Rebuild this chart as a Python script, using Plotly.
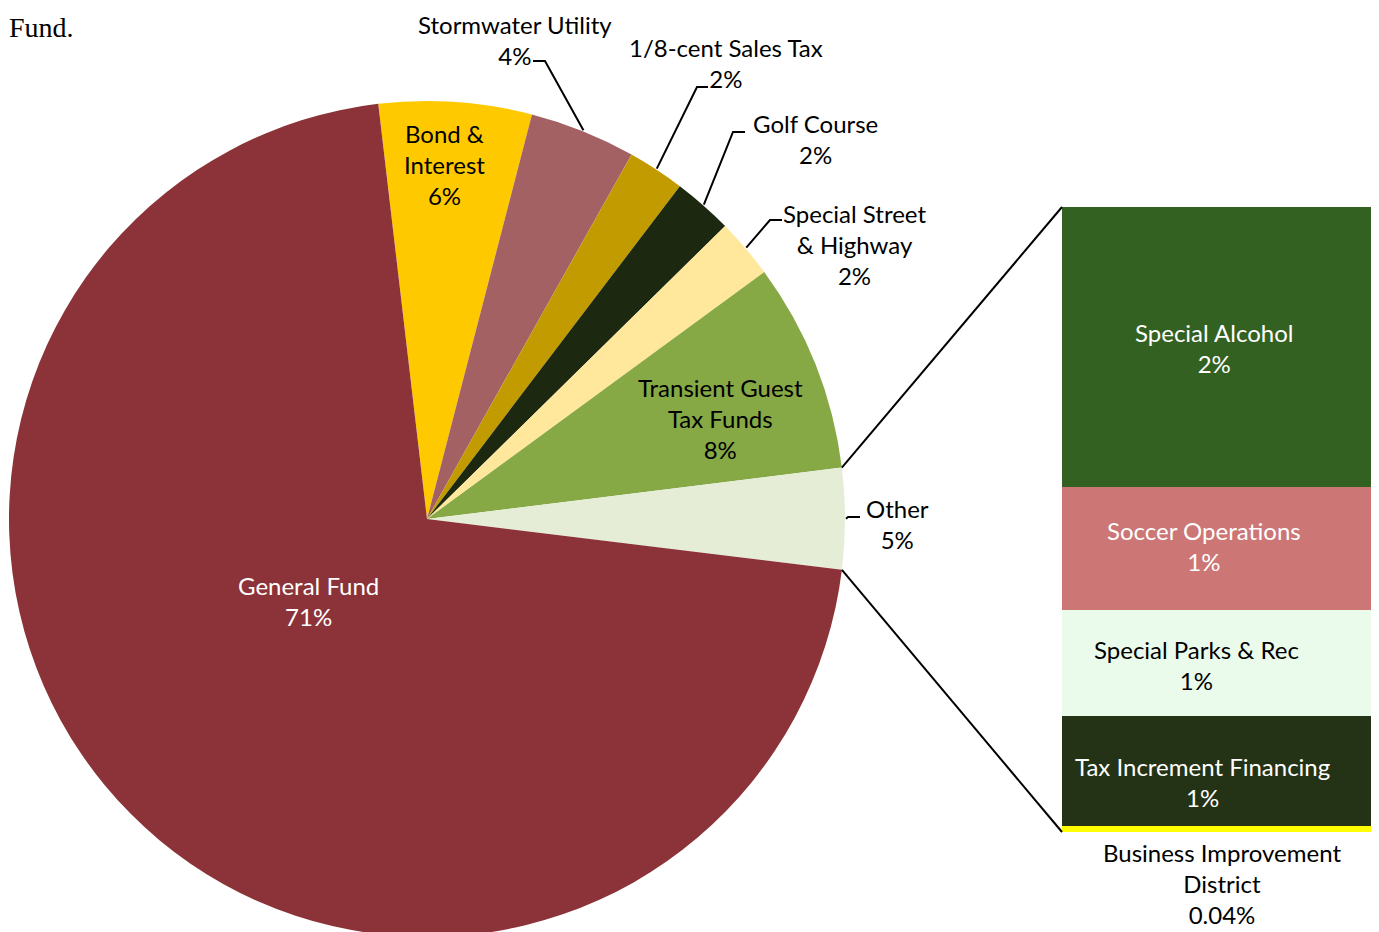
import math
import plotly.graph_objects as go

W, H = 1379, 932
OFF = 8   # the page places the figure 8 px in from the top-left corner

# ---------------- data ----------------
# pie slices, clockwise starting at "Bond & Interest"
pie_labels = ["Bond & Interest", "Stormwater Utility", "1/8-cent Sales Tax", "Golf Course",
              "Special Street & Highway", "Transient Guest Tax Funds", "Other", "General Fund"]
pie_values = [5.9, 4.1, 2.2, 2.3, 2.3, 8.1, 3.9, 71.2]
pie_pct_text = ["6%", "4%", "2%", "2%", "2%", "8%", "5%", "71%"]
pie_colors = ["#FFC900", "#A46163", "#C29B00", "#1D2810", "#FFE89B", "#86A845", "#E5EDD6", "#8B3338"]

# breakdown of "Other" (bottom to top of the stacked bar)
bar_labels = ["Business Improvement District", "Tax Increment Financing", "Special Parks & Rec",
              "Soccer Operations", "Special Alcohol"]
bar_values = [0.037, 0.69, 0.66, 0.77, 1.75]
bar_pct_text = ["0.04%", "1%", "1%", "1%", "2%"]
bar_colors = ["#FFFF00", "#243315", "#EBFBEB", "#CC7676", "#336121"]

# ---------------- geometry (page px) ----------------
CX, CY, R = 427, 519, 418          # pie centre / radius
ROT = -6.7                          # start angle of first slice (deg, clockwise from 12 o'clock)
BAR_X0, BAR_X1, BAR_TOP, BAR_BOT = 1062, 1375, 207, 832

FONT = "Lato"
FS = 24


def px(x):
    return (x - OFF) / W


def py(y):
    return 1 - (y - OFF) / H


total = sum(pie_values)
angles = []
acc = 0.0
for v in pie_values:
    a0 = ROT + 360 * acc / total
    acc += v
    a1 = ROT + 360 * acc / total
    angles.append((a0, a1))


def arc_pt(a, r=R):
    t = math.radians(a)
    return CX + r * math.sin(t), CY - r * math.cos(t)


fig = go.Figure()

fig.add_trace(go.Pie(
    labels=pie_labels, values=pie_values, sort=False, direction="clockwise",
    rotation=ROT, marker=dict(colors=pie_colors, line=dict(width=0)),
    textinfo="none", hoverinfo="label+percent", showlegend=False,
    domain=dict(x=[px(CX - R), px(CX + R)], y=[py(CY + R), py(CY - R)]),
))

for lab, val, col in zip(bar_labels, bar_values, bar_colors):
    fig.add_trace(go.Bar(x=[0], y=[val], name=lab, marker=dict(color=col, line=dict(width=0)),
                         width=1, showlegend=False, xaxis="x", yaxis="y"))

fig.update_layout(
    width=W, height=H, margin=dict(l=0, r=0, t=0, b=0),
    paper_bgcolor="white", plot_bgcolor="white", barmode="stack",
    xaxis=dict(domain=[px(BAR_X0), min(1, px(BAR_X1))], range=[-0.5, 0.5], visible=False,
               fixedrange=True),
    yaxis=dict(domain=[py(BAR_BOT), py(BAR_TOP)], range=[0, sum(bar_values)], visible=False,
               fixedrange=True),
    font=dict(family=FONT, size=FS, color="black"),
)

annotations = []


def add_block(lines, x, yc, color="black"):
    annotations.append(dict(text="<br>".join(lines), x=px(x), y=py(yc), xref="paper",
                            yref="paper", xanchor="center", yanchor="middle", align="center",
                            showarrow=False, font=dict(family=FONT, size=FS, color=color)))


# pie labels
add_block(["Bond &", "Interest", pie_pct_text[0]], 445, 164)
add_block(["Stormwater Utility", pie_pct_text[1]], 515, 40)
add_block(["1/8-cent Sales Tax", pie_pct_text[2]], 726, 63)
add_block(["Golf Course", pie_pct_text[3]], 815, 139)
add_block(["Special Street", "& Highway", pie_pct_text[4]], 855, 244)
add_block(["Transient Guest", "Tax Funds", pie_pct_text[5]], 720, 418)
add_block(["Other", pie_pct_text[6]], 897, 524)
add_block(["General Fund", pie_pct_text[7]], 308, 601, color="white")

# bar labels
add_block(["Special Alcohol", bar_pct_text[4]], 1214, 348, color="white")
add_block(["Soccer Operations", bar_pct_text[3]], 1204, 546, color="white")
add_block(["Special Parks & Rec", bar_pct_text[2]], 1196, 665)
add_block(["Tax Increment Financing", bar_pct_text[1]], 1202, 782, color="white")
add_block(["Business Improvement", "District", bar_pct_text[0]], 1222, 883)

# document text fragment at top-left
annotations.append(dict(text="Fund.", x=px(76), y=1, xref="paper", yref="paper",
                        xanchor="right", yanchor="top", yshift=-2, showarrow=False,
                        font=dict(family="Liberation Serif", size=28, color="black")))

fig.update_layout(annotations=annotations)

shapes = []
# leader lines: (horizontal start x, y, bend x) -> arc midpoint of slice
leaders = {1: (533, 61, 545), 2: (708, 87, 697), 3: (745, 132, 733), 4: (782, 220, 770),
           6: (860, 517, 848)}
for idx, (x0, y0, xb) in leaders.items():
    a0, a1 = angles[idx]
    ex, ey = arc_pt((a0 + a1) / 2, R + 1)
    path = f"M {px(x0)},{py(y0)} L {px(xb)},{py(y0)} L {px(ex)},{py(ey)}"
    shapes.append(dict(type="path", path=path, xref="paper", yref="paper",
                       line=dict(color="black", width=2)))

# connector lines between "Other" slice and the bar
oa0, oa1 = angles[6]
sx, sy = arc_pt(oa0)
ex, ey = arc_pt(oa1)
shapes.append(dict(type="line", xref="paper", yref="paper", x0=px(sx), y0=py(sy), x1=px(BAR_X0),
                   y1=py(BAR_TOP), line=dict(color="black", width=2)))
shapes.append(dict(type="line", xref="paper", yref="paper", x0=px(ex), y0=py(ey), x1=px(BAR_X0),
                   y1=py(BAR_BOT), line=dict(color="black", width=2)))
fig.update_layout(shapes=shapes)

fig.write_html("out.html")
